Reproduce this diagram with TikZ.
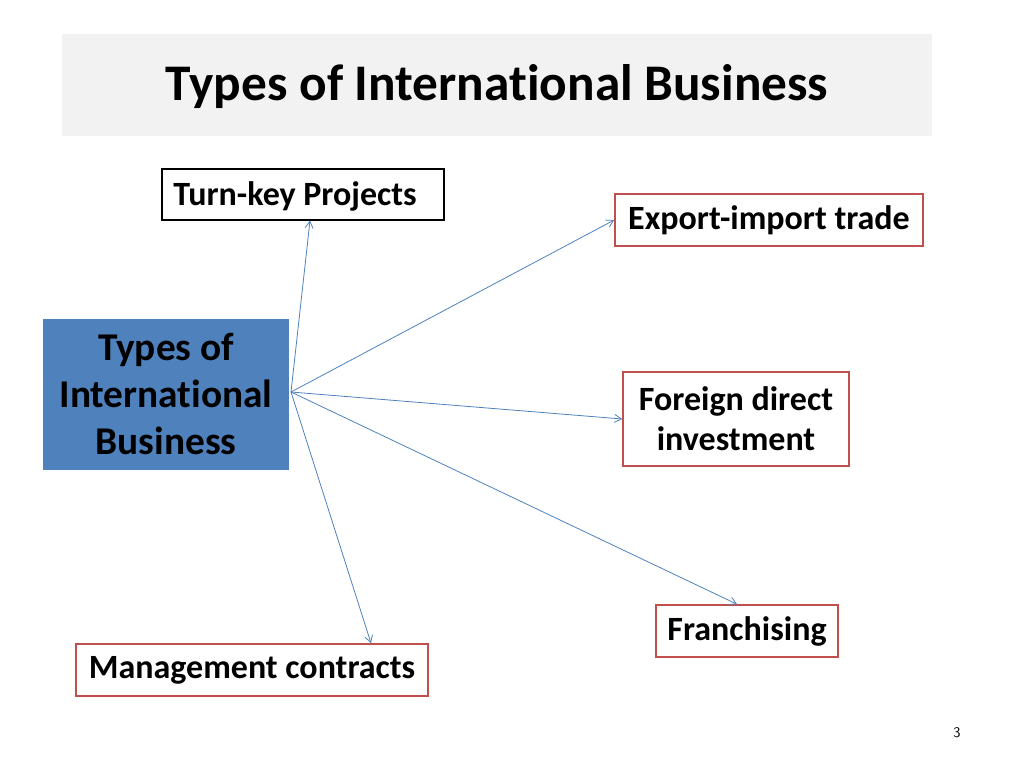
\documentclass[tikz,border=0pt]{standalone}
\usepackage{fontspec}
\setmainfont[Ligatures=NoCommon]{Carlito}
\usetikzlibrary{arrows.meta,calc}
\definecolor{redb}{HTML}{C0504D}
\definecolor{blueb}{HTML}{4F81BD}
\definecolor{greyb}{HTML}{F2F2F2}
\begin{document}
\begin{tikzpicture}[x=0.75pt,y=-0.75pt,
  box/.style={draw=redb,line width=1.2pt,inner sep=0pt,font=\fontsize{25.5}{30}\selectfont\bfseries,align=center},
  conn/.style={draw=blueb,line width=0.6pt,-{Straight Barb[angle=60:6pt]}}]
\useasboundingbox (0,0) rectangle (1024,768);
\fill[greyb] (62,34) rectangle (932,136);
\node[font=\fontsize{38.5}{44}\selectfont\bfseries] (title) at (497,87) {Types of International Business};
\node[draw=black,line width=0.8pt,inner sep=0pt,minimum width=282*0.75pt,minimum height=51*0.75pt] (tk) at (303,194.5) {};
\node[anchor=west,inner sep=0pt,font=\fontsize{25.5}{30}\selectfont\bfseries] (tkt) at (173,196) {Turn-key Projects};
\node[box,minimum width=308*0.75pt,minimum height=52*0.75pt] (ex) at (769,220) {Export-import trade};
\node[box,minimum width=226*0.75pt,minimum height=94*0.75pt] (fd) at (736,419) {Foreign direct\\investment};
\node[box,minimum width=182*0.75pt,minimum height=52*0.75pt] (fr) at (747,631) {Franchising};
\node[box,minimum width=352*0.75pt,minimum height=52*0.75pt] (mc) at (252,670) {Management contracts};
\node[fill=blueb,inner sep=0pt,minimum width=246*0.75pt,minimum height=151*0.75pt,align=center,font=\fontsize{29.5}{35}\selectfont\bfseries] (c) at (166,394) {Types of\\International\\Business};
\coordinate (o) at (291,392);
\draw[conn] (o) -- ($(tk.south)+(7,0)$);
\draw[conn] (o) -- (ex.west);
\draw[conn] (o) -- (fd.west);
\draw[conn] (o) -- ($(fr.north)+(-10,0)$);
\draw[conn] (o) -- ($(mc.north)+(119,0)$);
\node[font=\fontsize{11}{13}\selectfont\sffamily] (pg) at (957,733) {3};
\end{tikzpicture}
\end{document}
